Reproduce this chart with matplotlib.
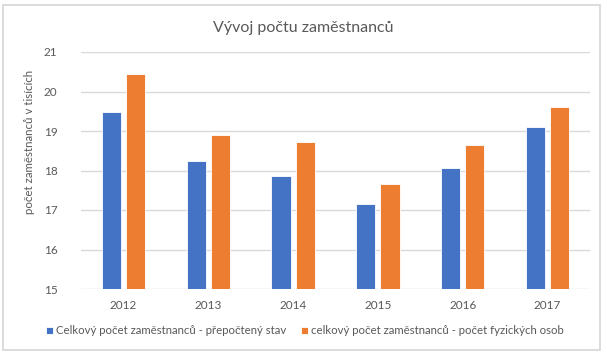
import matplotlib
matplotlib.use("Agg")
import matplotlib.pyplot as plt
from matplotlib.patches import Rectangle
import numpy as np

plt.rcParams['font.family'] = ['Lato', 'DejaVu Sans']

roky = ['2012', '2013', '2014', '2015', '2016', '2017']
prepocteny = [19.47, 18.23, 17.85, 17.15, 18.07, 19.10]
fyzicke = [20.45, 18.91, 18.71, 17.66, 18.65, 19.60]
nazvy = ['Celkový počet zaměstnanců - přepočtený stav',
         'celkový počet zaměstnanců - počet fyzických osob']

modra = '#4472C4'
oranzova = '#ED7D31'
seda = '#595959'

fig = plt.figure(figsize=(6.07, 3.55), dpi=100)
ax = fig.add_axes([81/607, 1-289/355, 509/607, 237/355])

x = np.arange(len(roky))
w = 0.225
b1 = ax.bar(x - 0.142, np.array(prepocteny) - 15, w, bottom=15, color=modra,
            edgecolor='white', linewidth=0.6, label=nazvy[0], zorder=3)
b2 = ax.bar(x + 0.142, np.array(fyzicke) - 15, w, bottom=15, color=oranzova,
            edgecolor='white', linewidth=0.6, label=nazvy[1], zorder=3)

ax.set_xlim(-0.5, len(roky) - 0.5)
ax.set_ylim(15, 21)
ax.set_yticks(range(15, 22))
ax.set_xticks(x)
ax.set_xticklabels(roky)
ax.grid(axis='y', color='#D9D9D9', linewidth=1, zorder=0)
for s in ax.spines.values():
    s.set_visible(False)
ax.tick_params(length=0, colors=seda, labelsize=8.5)
ax.tick_params(axis='y', pad=17)
ax.tick_params(axis='x', pad=8)

fig.text(0.5, 1-28/355, 'Vývoj počtu zaměstnanců', ha='center', va='center',
         fontsize=11.5, color=seda)
fig.text(30/607, 1-142/355, 'počet zaměstnanců v tisících', rotation=90,
         ha='center', va='center', fontsize=8.3, color=seda)

fig.legend(handles=[b1, b2], loc='center', bbox_to_anchor=(305/607, 1-331/355),
           ncol=2, frameon=False, fontsize=8.2, labelcolor=seda,
           handlelength=0.6, handleheight=0.6, handletextpad=0.25,
           columnspacing=1.3)

fig.patches.append(Rectangle((3/607, 1-350/355), 597/607, 345/355,
                             transform=fig.transFigure, fill=False,
                             edgecolor='#D9D9D9', linewidth=1.3))

fig.savefig('out.png', dpi=100)
